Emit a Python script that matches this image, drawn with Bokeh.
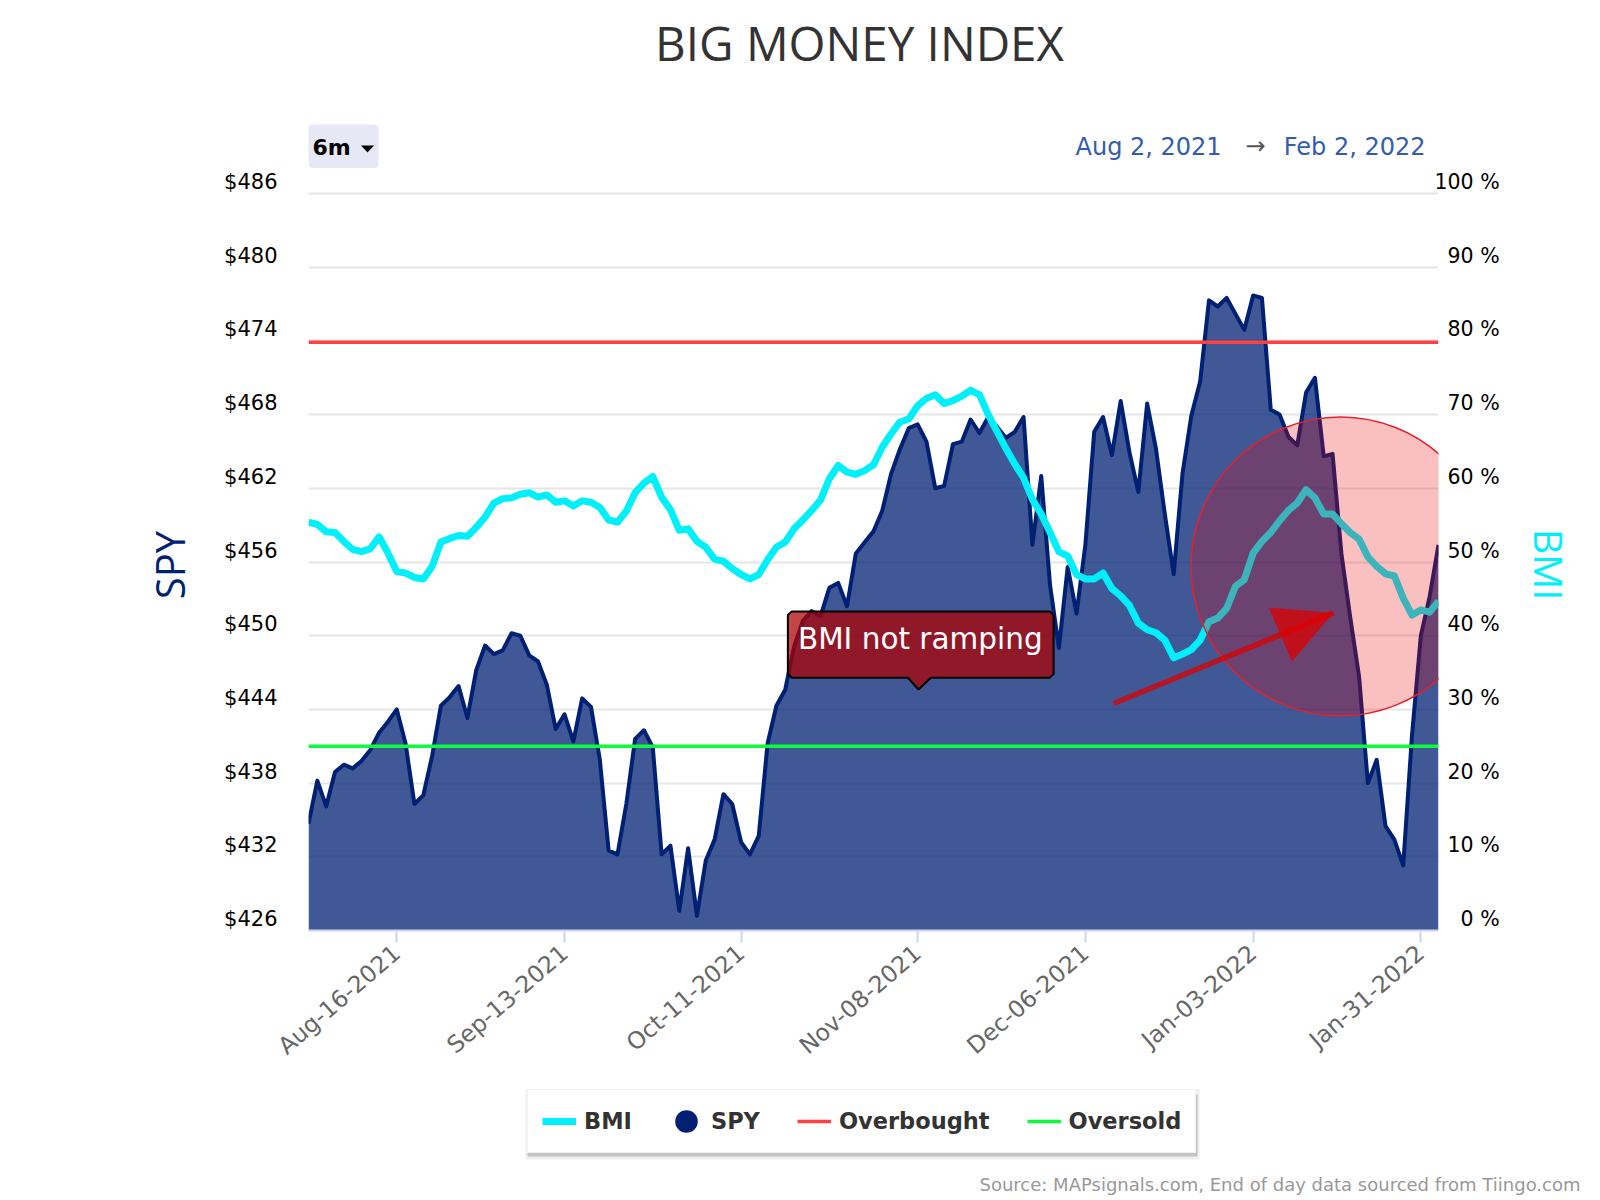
from bokeh.embed import file_html
from bokeh.resources import INLINE
from bokeh.plotting import figure
from bokeh.layouts import column
from bokeh.core.properties import value
from bokeh.models import Range1d, LinearAxis, FixedTicker, Grid, Label, Legend, LegendItem
import math

SPY = [434.7,438.2,436.1,438.9,439.5,439.2,439.8,440.7,442.1,443.0,444.0,441.2,436.3,437.0,440.2,444.3,445.0,445.9,443.3,447.2,
449.2,448.5,448.8,450.2,450.0,448.4,447.9,446.0,442.4,443.6,441.4,444.9,444.2,439.9,432.5,432.2,436.3,441.6,442.3,440.9,
432.2,432.9,427.6,432.7,427.2,431.7,433.4,437.1,436.3,433.2,432.2,433.7,441.2,444.3,445.6,449.1,451.2,452.0,451.6,453.9,
454.3,452.4,456.7,457.6,458.5,460.2,463.2,465.2,466.9,467.2,465.8,462.0,462.2,465.6,465.8,467.6,466.5,467.8,467.0,466.1,
466.6,467.8,457.4,463.0,454.1,449.0,455.6,451.8,457.4,466.6,467.8,464.7,469.1,464.9,461.7,468.9,465.2,459.9,455.0,463.2,
467.9,470.7,477.3,476.8,477.5,476.2,474.9,477.7,477.5,468.4,468.0,466.2,465.5,469.8,471.0,464.6,464.8,456.7,451.5,446.7,
438.0,439.9,434.5,433.4,431.3,441.9,450.0,453.2,457.4]
BMI = [55.4,55.1,54.1,54.0,52.8,51.7,51.4,51.8,53.4,51.2,48.7,48.5,47.9,47.7,49.4,52.7,53.2,53.6,53.5,54.7,
56.1,58.0,58.6,58.7,59.2,59.4,58.8,59.1,58.1,58.3,57.6,58.3,58.1,57.4,55.7,55.4,56.9,59.4,60.7,61.6,
58.8,57.1,54.3,54.5,52.8,52.0,50.4,50.1,49.1,48.3,47.7,48.3,50.3,52.0,52.7,54.5,55.7,57.0,58.4,61.3,
63.1,62.2,61.9,62.4,63.2,65.6,67.4,69.0,69.4,71.2,72.2,72.7,71.5,71.9,72.5,73.3,72.7,70.0,67.7,65.4,
63.3,61.4,58.5,56.5,54.0,51.4,50.8,48.3,47.7,47.7,48.5,46.4,45.4,44.1,41.7,40.8,40.4,39.4,37.0,37.5,
38.1,39.4,41.9,42.4,43.7,46.7,47.6,51.2,52.8,54.0,55.6,57.0,58.0,59.8,58.7,56.5,56.5,55.2,54.0,53.1,
50.7,49.4,48.4,48.1,45.1,42.8,43.5,43.2,44.7]
DAY_INDEX = list(range(len(SPY)))
DATE_TICKS = [10, 29, 49, 69, 88, 107, 126]
DATE_LABELS = ["Aug-16-2021","Sep-13-2021","Oct-11-2021","Nov-08-2021","Dec-06-2021","Jan-03-2022","Jan-31-2022"]
SPY_TICKS = [426,432,438,444,450,456,462,468,474,480,486]
BMI_TICKS = [0,10,20,30,40,50,60,70,80,90,100]
OVERBOUGHT = 79.8
OVERSOLD = 25
CIRCLE_X, CIRCLE_Y = [116.9], [49.4]
ARROW_X, ARROW_Y = [91.2, 116.1], [30.8, 43.1]
HEAD_X, HEAD_Y = [108.8, 116.1, 111.4], [43.8, 43.1, 36.5]
BOX_X = [54.3,54.75,83.95,84.4,84.4,83.95,70.5,69.1,67.9,54.75,54.3]
BOX_Y = [42.8,43.3,43.3,42.8,34.8,34.3,34.3,32.7,34.3,34.3,34.8]

CW = 1590
HEAD_H = 168           # page rows above the main frame
FL, FW, FH = 308, 1130, 762
MAIN_H = 910
FOOT_H = 1195 - HEAD_H - MAIN_H
PX_PCT = 737/100
spy_per_px = 60/737
shift = 11.5
FS = "\u2007"
NB = "\u00a0"

# ---------- header ----------
head = figure(width=CW, height=HEAD_H, output_backend="svg", toolbar_location=None, frame_align=False,
              x_range=Range1d(0, CW), y_range=Range1d(HEAD_H, 0), x_axis_location=None, y_axis_location=None,
              min_border=0, outline_line_color=None)
head.grid.visible = False
head.quad(left=[308], right=[378], top=[124], bottom=[168], fill_color="#e6e9f5", line_color=None, border_radius=5)
head.patch([360.5, 373.5, 367], [145, 145, 152], fill_color="#000000", line_color=None)
def lab(fig, txt, x, y, size, color, font="DejaVu Sans", style="normal", align="left"):
    fig.add_layout(Label(x=x, y=y, text=txt, text_font=font, text_font_size=size, text_color=color,
                         text_font_style=style, text_align=align, text_baseline="middle"))
lab(head, "BIG MONEY INDEX", 859, 42, "47.5px", "#333333", font="Open Sans", align="center")
lab(head, "6m", 312, 147, "22px", "#000000", style="bold")
lab(head, "Aug 2, 2021", 1075, 146, "24px", "#335cad")
lab(head, "→", 1255, 145, "24px", "#555555", align="center")
lab(head, "Feb 2, 2022", 1425, 146, "24px", "#335cad", align="right")

# ---------- main ----------
p = figure(width=CW, height=MAIN_H, frame_width=FW, frame_height=FH, output_backend="svg", toolbar_location=None,
           frame_align=False,
           x_range=Range1d(0, 128), y_range=Range1d(0, FH/PX_PCT), x_axis_location=None, y_axis_location=None,
           min_border_left=FL, min_border_right=CW-FL-FW, min_border_top=0, min_border_bottom=MAIN_H-FH,
           outline_line_color=None)
p.xgrid.visible = False
p.ygrid.visible = False
p.extra_y_ranges = {
    "spy": Range1d(426, 426+FH*spy_per_px),
    "spyl": Range1d(426-shift*spy_per_px, 426+(FH-shift)*spy_per_px),
    "bmil": Range1d(-shift/PX_PCT, (FH-shift)/PX_PCT),
}
p.add_layout(Grid(dimension=1, ticker=FixedTicker(ticks=BMI_TICKS), grid_line_color="#e6e6e6", grid_line_width=2))

xa = LinearAxis(ticker=FixedTicker(ticks=DATE_TICKS), major_label_overrides=dict(zip(DATE_TICKS, DATE_LABELS)),
                major_label_orientation=math.radians(41), major_label_text_font="DejaVu Sans", major_label_text_font_size="23.5px",
                major_label_text_color="#666666", axis_line_color="#ccd6eb", axis_line_width=2,
                major_tick_line_color="#ccd6eb", major_tick_line_width=2, major_tick_in=0, major_tick_out=12,
                minor_tick_line_color=None, major_label_standoff=7)
p.add_layout(xa, "below")

la = LinearAxis(y_range_name="spyl", ticker=FixedTicker(ticks=SPY_TICKS),
                major_label_overrides={v: f"${v}" for v in SPY_TICKS},
                major_label_text_font="DejaVu Sans", major_label_text_font_size="21px", major_label_text_color="#000000",
                axis_line_color=None, major_tick_line_color=None, minor_tick_line_color=None,
                major_tick_in=0, major_tick_out=0, major_label_standoff=31)
p.add_layout(la, "left")
lt = LinearAxis(y_range_name="spy", ticker=FixedTicker(ticks=[]),
                axis_line_color=None, major_tick_line_color=None, minor_tick_line_color=None,
                major_tick_in=0, major_tick_out=0, major_label_standoff=0,
                axis_label="SPY"+NB*3, axis_label_text_font="Open Sans", axis_label_text_font_size="40px",
                axis_label_text_font_style="normal", axis_label_text_color="#001f75", axis_label_standoff=25)
p.add_layout(lt, "left")

ra = LinearAxis(y_range_name="bmil", ticker=FixedTicker(ticks=BMI_TICKS),
                major_label_overrides={v: FS*(3-len(str(v))) + f"{v} %" for v in BMI_TICKS},
                major_label_text_font="DejaVu Sans", major_label_text_font_size="20.5px", major_label_text_color="#000000",
                axis_line_color=None, major_tick_line_color=None, minor_tick_line_color=None,
                major_tick_in=0, major_tick_out=0, major_label_standoff=-4)
p.add_layout(ra, "right")
rt = LinearAxis(ticker=FixedTicker(ticks=[]),
                axis_line_color=None, major_tick_line_color=None, minor_tick_line_color=None,
                major_tick_in=0, major_tick_out=0, major_label_standoff=0,
                axis_label=NB*3+"BMI", axis_label_text_font="Open Sans", axis_label_text_font_size="39px",
                axis_label_text_font_style="normal", axis_label_text_color="#00f0fb", axis_label_standoff=20)
p.add_layout(rt, "right")

p.varea(DAY_INDEX, [426]*len(SPY), SPY, y_range_name="spy", fill_color="#002073", fill_alpha=0.75)
p.line(DAY_INDEX, SPY, y_range_name="spy", line_color="#002073", line_width=4, line_join="round")
p.line([0,128], [OVERBOUGHT]*2, line_color="#ff4040", line_width=3.5)
p.line([0,128], [OVERSOLD]*2, line_color="#0cfb3c", line_width=3.5)
p.line(DAY_INDEX, BMI, line_color="#00f0fb", line_width=7, line_join="round")

p.patch(BOX_X, BOX_Y, fill_color="#ae0000", fill_alpha=0.73, line_color="#000000", line_width=2)
p.text([69.3],[39.6],["BMI not ramping"], text_color="white", text_font=value("DejaVu Sans"), text_font_size="29.5px",
       text_align="center", text_baseline="middle")
p.scatter(CIRCLE_X, CIRCLE_Y, size=299, marker="circle", fill_color="#eb0000", fill_alpha=0.25,
          line_color="#e6202c", line_width=1.5)
p.line(ARROW_X, ARROW_Y, line_color="#dc0000", line_alpha=0.75, line_width=5.5)
p.patch(HEAD_X, HEAD_Y, fill_color="#dc0000", fill_alpha=0.75, line_color=None)

# ---------- footer ----------
Y0 = HEAD_H + MAIN_H
foot = figure(width=CW, height=FOOT_H, output_backend="svg", toolbar_location=None, frame_align=False,
              x_range=Range1d(0, CW), y_range=Range1d(Y0+FOOT_H, Y0), x_axis_location=None, y_axis_location=None,
              min_border=0, outline_line_color=None)
foot.grid.visible = False
foot.quad(left=[525], right=[1199], top=[1089], bottom=[1159], fill_color="#f0f0f0", line_color=None)
foot.quad(left=[527], right=[1197], top=[1094], bottom=[1156], fill_color="#c4c4c4", line_color=None)
NA = [float("nan")]
k_bmi = foot.line(NA, NA, line_color="#00f0fb", line_width=7)
k_spy = foot.scatter(NA, NA, marker="circle", size=23, fill_color="#002073", line_color="#002073", line_width=9)
k_red = foot.line(NA, NA, line_color="#ff4040", line_width=3.5)
k_grn = foot.line(NA, NA, line_color="#0cfb3c", line_width=3.5)
legend = Legend(items=[LegendItem(label="BMI", renderers=[k_bmi]), LegendItem(label="SPY", renderers=[k_spy]),
                       LegendItem(label="Overbought", renderers=[k_red]), LegendItem(label="Oversold", renderers=[k_grn])],
                orientation="horizontal", location=(527, 1195-1153), glyph_width=34, glyph_height=34, label_standoff=8,
                spacing=37, padding=14, margin=0, label_text_font="DejaVu Sans", label_text_font_style="bold",
                label_text_font_size="22.5px", label_text_color="#333333", border_line_color="#e8e8e8",
                background_fill_alpha=1)
foot.add_layout(legend, "center")
lab(foot, "Source: MAPsignals.com, End of day data sourced from Tiingo.com", 1580, 1184, "18px", "#999999", align="right")

layout = column(head, p, foot, spacing=0)
open("out.html", "w").write(file_html(layout, INLINE))
